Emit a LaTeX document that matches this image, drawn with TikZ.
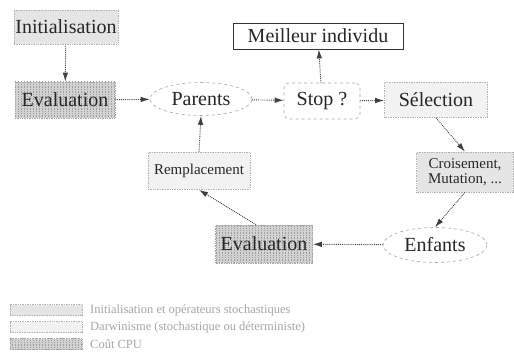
\documentclass[tikz,border=0pt]{standalone}
\usepackage{fontspec}
\setmainfont{Liberation Serif}
\newfontfamily\diagserif{Liberation Serif}
\usetikzlibrary{arrows.meta,shapes.geometric,patterns}
\begin{document}
\begin{tikzpicture}[x=1pt,y=1pt,
  box/.style={rectangle,inner sep=0pt,text=black!85,font=\diagserif\fontsize{20}{22}\selectfont},
  stoch/.style={box,fill=gray!20,draw=gray!60,densely dotted,line width=0.7pt},
  darw/.style={box,fill=gray!10,draw=gray!60,densely dotted,line width=0.7pt},
  cpu/.style={box,draw=gray!70,densely dotted,line width=0.7pt,
      preaction={fill=gray!35},pattern=vertical lines,pattern color=gray!75},
  oval/.style={ellipse,inner sep=0pt,draw=gray!70,dashed,line width=0.6pt,fill=white,
      text=black!85,font=\diagserif\fontsize{20}{22}\selectfont},
  small/.style={font=\diagserif\fontsize{15}{17}\selectfont},
  arr/.style={densely dotted,line width=0.9pt,draw=black!75,
      -{Latex[length=9pt,width=5.5pt]}},
  legtext/.style={anchor=west,inner sep=0pt,text=gray!70,font=\diagserif\fontsize{12.5}{14}\selectfont}
]
\useasboundingbox (0,0) rectangle (514,351);

\node[stoch,minimum width=104pt,minimum height=34pt] (init) at (66,324) {Initialisation};
\node[cpu,minimum width=100pt,minimum height=36pt] (eval1) at (65,251) {Evaluation};
\node[oval,minimum width=102pt,minimum height=33pt] (parents) at (201,252) {Parents};
\node[box,draw=gray!70,dashed,rounded corners=5pt,line width=0.6pt,
      minimum width=76pt,minimum height=36pt] (stop) at (322,250) {Stop ?};
\node[box,draw=black!80,line width=0.8pt,minimum width=170pt,minimum height=26pt] (best) at (318,315) {Meilleur individu};
\node[darw,minimum width=103pt,minimum height=35pt] (sel) at (436,251) {Sélection};
\node[darw,small,minimum width=102pt,minimum height=37pt] (rempl) at (199,180) {Remplacement};
\node[stoch,small,align=center,minimum width=97pt,minimum height=40pt] (crois) at (465,179) {Croisement,\\[-2pt]Mutation, ...};
\node[cpu,minimum width=97pt,minimum height=38pt] (eval2) at (264,107) {Evaluation};
\node[oval,minimum width=104pt,minimum height=35pt] (enf) at (435,106) {Enfants};

\draw[arr] (init) -- (eval1);
\draw[arr] (eval1) -- (parents);
\draw[arr] (parents) -- (stop);
\draw[arr] (stop) -- (best);
\draw[arr] (stop) -- (sel);
\draw[arr] (sel.south) -- (crois.north);
\draw[arr] (crois.south) -- (enf.north);
\draw[arr] (enf) -- (eval2);
\draw[arr] ([xshift=-8pt]eval2.north) -- (rempl.south);
\draw[arr] (rempl.north) -- (parents.south);

% legend
\node[stoch,minimum width=72pt,minimum height=11pt] (l1) at (46,41) {};
\node[darw,minimum width=72pt,minimum height=11pt] (l2) at (46,24) {};
\node[cpu,minimum width=72pt,minimum height=11pt] (l3) at (46,7) {};
\node[legtext] (t1) at (90,41) {Initialisation et opérateurs stochastiques};
\node[legtext] (t2) at (90,24) {Darwinisme (stochastique ou déterministe)};
\node[legtext] (t3) at (90,7) {Coût CPU};
\end{tikzpicture}
\end{document}
